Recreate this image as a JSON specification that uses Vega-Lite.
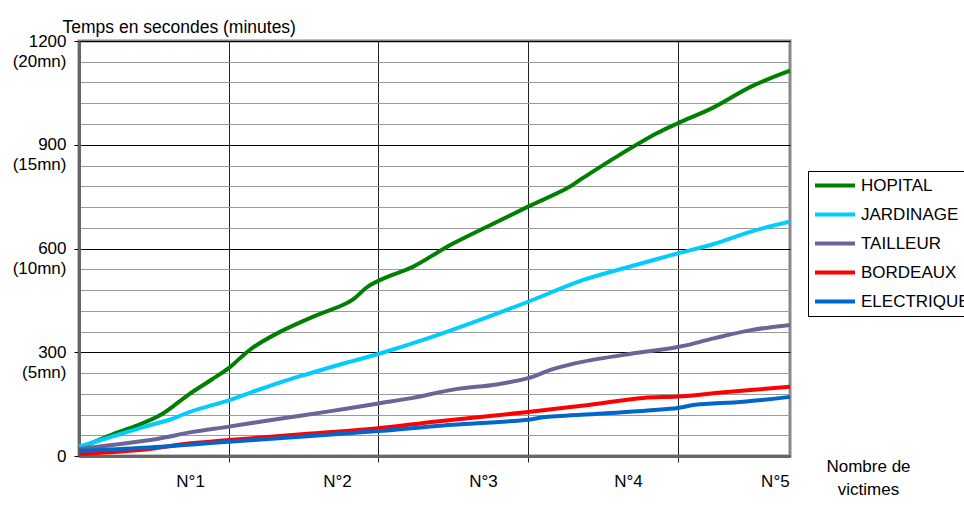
{
  "$schema": "https://vega.github.io/schema/vega-lite/v6.json",
  "width": 711,
  "height": 415,
  "autosize": {"type": "none"},
  "padding": {"left": 79, "top": 41, "right": 174, "bottom": 50},
  "background": "white",
  "config": {
    "font": "Liberation Sans",
    "view": {"stroke": "#888888", "strokeWidth": 3},
    "axis": {
      "labelFont": "Liberation Sans",
      "titleFont": "Liberation Sans",
      "labelFontSize": 17,
      "titleFontSize": 17,
      "labelColor": "black",
      "titleColor": "black",
      "titleFontWeight": "normal"
    }
  },
  "data": {
    "values": [
      {"serie": "HOPITAL", "x": 0, "y": 22},
      {"serie": "HOPITAL", "x": 0.22, "y": 62},
      {"serie": "HOPITAL", "x": 0.38, "y": 87},
      {"serie": "HOPITAL", "x": 0.55, "y": 120},
      {"serie": "HOPITAL", "x": 0.73, "y": 177},
      {"serie": "HOPITAL", "x": 0.89, "y": 222},
      {"serie": "HOPITAL", "x": 1.0, "y": 254},
      {"serie": "HOPITAL", "x": 1.15, "y": 310},
      {"serie": "HOPITAL", "x": 1.33, "y": 356},
      {"serie": "HOPITAL", "x": 1.55, "y": 400},
      {"serie": "HOPITAL", "x": 1.78, "y": 440},
      {"serie": "HOPITAL", "x": 1.84, "y": 456},
      {"serie": "HOPITAL", "x": 1.93, "y": 490},
      {"serie": "HOPITAL", "x": 2.06, "y": 518},
      {"serie": "HOPITAL", "x": 2.23, "y": 547},
      {"serie": "HOPITAL", "x": 2.48, "y": 610},
      {"serie": "HOPITAL", "x": 2.74, "y": 666},
      {"serie": "HOPITAL", "x": 3.0, "y": 721},
      {"serie": "HOPITAL", "x": 3.26, "y": 774},
      {"serie": "HOPITAL", "x": 3.37, "y": 805},
      {"serie": "HOPITAL", "x": 3.59, "y": 865},
      {"serie": "HOPITAL", "x": 3.86, "y": 933},
      {"serie": "HOPITAL", "x": 4.0, "y": 962},
      {"serie": "HOPITAL", "x": 4.24, "y": 1008},
      {"serie": "HOPITAL", "x": 4.49, "y": 1068},
      {"serie": "HOPITAL", "x": 4.75, "y": 1114},
      {"serie": "JARDINAGE", "x": 0, "y": 27},
      {"serie": "JARDINAGE", "x": 0.22, "y": 56},
      {"serie": "JARDINAGE", "x": 0.44, "y": 85},
      {"serie": "JARDINAGE", "x": 0.62, "y": 107},
      {"serie": "JARDINAGE", "x": 0.75, "y": 129},
      {"serie": "JARDINAGE", "x": 1.0, "y": 161},
      {"serie": "JARDINAGE", "x": 1.15, "y": 184},
      {"serie": "JARDINAGE", "x": 1.38, "y": 218},
      {"serie": "JARDINAGE", "x": 1.55, "y": 240},
      {"serie": "JARDINAGE", "x": 1.78, "y": 269},
      {"serie": "JARDINAGE", "x": 2.0, "y": 295},
      {"serie": "JARDINAGE", "x": 2.33, "y": 340},
      {"serie": "JARDINAGE", "x": 2.67, "y": 392},
      {"serie": "JARDINAGE", "x": 3.0, "y": 446},
      {"serie": "JARDINAGE", "x": 3.37, "y": 509},
      {"serie": "JARDINAGE", "x": 3.7, "y": 550},
      {"serie": "JARDINAGE", "x": 4.0, "y": 586},
      {"serie": "JARDINAGE", "x": 4.24, "y": 613},
      {"serie": "JARDINAGE", "x": 4.49, "y": 649},
      {"serie": "JARDINAGE", "x": 4.75, "y": 678},
      {"serie": "TAILLEUR", "x": 0, "y": 20},
      {"serie": "TAILLEUR", "x": 0.22, "y": 32},
      {"serie": "TAILLEUR", "x": 0.53, "y": 50},
      {"serie": "TAILLEUR", "x": 0.75, "y": 69},
      {"serie": "TAILLEUR", "x": 1.0, "y": 85},
      {"serie": "TAILLEUR", "x": 1.33, "y": 107},
      {"serie": "TAILLEUR", "x": 1.67, "y": 129},
      {"serie": "TAILLEUR", "x": 2.0, "y": 152},
      {"serie": "TAILLEUR", "x": 2.23, "y": 168},
      {"serie": "TAILLEUR", "x": 2.5, "y": 192},
      {"serie": "TAILLEUR", "x": 2.79, "y": 207},
      {"serie": "TAILLEUR", "x": 3.0, "y": 225},
      {"serie": "TAILLEUR", "x": 3.17, "y": 252},
      {"serie": "TAILLEUR", "x": 3.37, "y": 273},
      {"serie": "TAILLEUR", "x": 3.68, "y": 295},
      {"serie": "TAILLEUR", "x": 4.0, "y": 315},
      {"serie": "TAILLEUR", "x": 4.24, "y": 340},
      {"serie": "TAILLEUR", "x": 4.49, "y": 364},
      {"serie": "TAILLEUR", "x": 4.75, "y": 379},
      {"serie": "BORDEAUX", "x": 0, "y": 6},
      {"serie": "BORDEAUX", "x": 0.44, "y": 19},
      {"serie": "BORDEAUX", "x": 0.73, "y": 36},
      {"serie": "BORDEAUX", "x": 1.0, "y": 46},
      {"serie": "BORDEAUX", "x": 1.55, "y": 65},
      {"serie": "BORDEAUX", "x": 2.0, "y": 80},
      {"serie": "BORDEAUX", "x": 2.39, "y": 100},
      {"serie": "BORDEAUX", "x": 3.0, "y": 127},
      {"serie": "BORDEAUX", "x": 3.39, "y": 147},
      {"serie": "BORDEAUX", "x": 3.77, "y": 168},
      {"serie": "BORDEAUX", "x": 4.0, "y": 172},
      {"serie": "BORDEAUX", "x": 4.33, "y": 185},
      {"serie": "BORDEAUX", "x": 4.75, "y": 200},
      {"serie": "ELECTRIQUE", "x": 0, "y": 15},
      {"serie": "ELECTRIQUE", "x": 0.44, "y": 24},
      {"serie": "ELECTRIQUE", "x": 1.0, "y": 41},
      {"serie": "ELECTRIQUE", "x": 1.55, "y": 58},
      {"serie": "ELECTRIQUE", "x": 2.0, "y": 72},
      {"serie": "ELECTRIQUE", "x": 2.39, "y": 87},
      {"serie": "ELECTRIQUE", "x": 3.0, "y": 105},
      {"serie": "ELECTRIQUE", "x": 3.1, "y": 112},
      {"serie": "ELECTRIQUE", "x": 3.5, "y": 123},
      {"serie": "ELECTRIQUE", "x": 4.0, "y": 139},
      {"serie": "ELECTRIQUE", "x": 4.12, "y": 148},
      {"serie": "ELECTRIQUE", "x": 4.44, "y": 157},
      {"serie": "ELECTRIQUE", "x": 4.75, "y": 171}
    ]
  },
  "layer": [
    {
      "mark": {"type": "line", "strokeWidth": 4, "interpolate": "catmull-rom"},
      "encoding": {
        "x": {
          "field": "x",
          "type": "quantitative",
          "scale": {"domain": [0, 4.75], "nice": false, "zero": false},
          "axis": {
            "orient": "bottom",
            "values": [1, 2, 3, 4],
            "labels": false,
            "title": null,
            "grid": true,
            "gridColor": "#222222",
            "gridWidth": 1,
            "ticks": true,
            "tickSize": 6,
            "tickColor": "#222222",
            "domainColor": "#666666",
            "domainWidth": 3
          }
        },
        "y": {
          "field": "y",
          "type": "quantitative",
          "scale": {"domain": [0, 1200], "nice": false, "zero": true},
          "axis": {
            "values": [0, 60, 120, 180, 240, 300, 360, 420, 480, 540, 600, 660, 720, 780, 840, 900, 960, 1020, 1080, 1140, 1200],
            "grid": true,
            "gridColor": {"condition": {"test": "datum.value % 300 === 0", "value": "#000000"}, "value": "#9a9a9a"},
            "gridWidth": 1,
            "tickOpacity": {"condition": {"test": "datum.value % 300 === 0", "value": 1}, "value": 0},
            "tickSize": 5,
            "tickColor": "#000000",
            "domainColor": "#666666",
            "domainWidth": 3,
            "labelOverlap": false,
            "labelExpr": "datum.value === 0 ? '0' : (datum.value % 300 === 0 ? [format(datum.value, 'd'), '(' + format(datum.value / 60, 'd') + 'mn)'] : '')",
            "labelBaseline": "top",
            "labelOffset": -8,
            "labelPadding": 8,
            "labelLineHeight": 20,
            "title": "Temps en secondes (minutes)",
            "titleFontSize": 17.5,
            "titleAngle": 0,
            "titleX": -17,
            "titleY": -9,
            "titleAlign": "left",
            "titleBaseline": "alphabetic"
          }
        },
        "color": {
          "field": "serie",
          "type": "nominal",
          "sort": ["HOPITAL", "JARDINAGE", "TAILLEUR", "BORDEAUX", "ELECTRIQUE"],
          "scale": {
            "domain": ["HOPITAL", "JARDINAGE", "TAILLEUR", "BORDEAUX", "ELECTRIQUE"],
            "range": ["#008000", "#00CCFF", "#666699", "#FF0000", "#0066CC"]
          },
          "legend": {
            "orient": "none",
            "legendX": 729,
            "legendY": 130,
            "title": null,
            "symbolType": "stroke",
            "symbolSize": 1600,
            "symbolStrokeWidth": 4,
            "symbolOffset": 5,
            "labelOffset": 4,
            "labelFont": "Liberation Sans",
            "labelFontSize": 17,
            "labelColor": "black",
            "strokeColor": "black",
            "padding": 0,
            "clipHeight": 29,
            "rowPadding": 0
          }
        }
      }
    },
    {
      "mark": {"type": "rule", "opacity": 0},
      "encoding": {
        "x": {
          "field": "x",
          "type": "quantitative",
          "scale": {"domain": [0, 4.75], "nice": false, "zero": false},
          "axis": {
            "orient": "bottom",
            "values": [0.742, 1.723, 2.699, 3.667, 4.649],
            "labelExpr": "'N°' + round(datum.value + 0.3)",
            "ticks": false,
            "grid": false,
            "domain": false,
            "labelPadding": 17,
            "labelBaseline": "top",
            "labelOverlap": false,
            "title": ["Nombre de", "victimes"],
            "titleX": 789,
            "titleY": 2,
            "titleAlign": "center",
            "titleBaseline": "top",
            "titleLineHeight": 23
          }
        }
      }
    }
  ],
  "resolve": {"axis": {"x": "independent"}}
}
